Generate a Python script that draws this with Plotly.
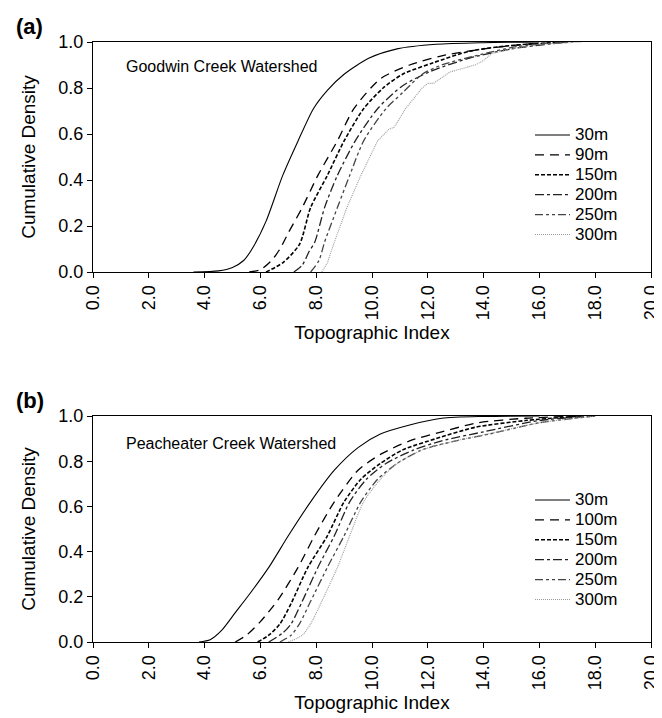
import plotly.graph_objects as go

FONT = '"Liberation Sans", Arial, sans-serif'

# ---------------- Data: panel (a) Goodwin Creek ----------------
a_labels = ["30m", "90m", "150m", "200m", "250m", "300m"]
a_30_x = [3.6, 4.5, 5.0, 5.4, 5.7, 6.2, 6.8, 7.35, 7.9, 8.4, 9.0, 9.9, 10.9, 12.3, 14.0, 16.0]
a_30_y = [0.0, 0.005, 0.02, 0.05, 0.10, 0.22, 0.42, 0.57, 0.71, 0.79, 0.86, 0.93, 0.97, 0.99, 0.997, 1.0]
a_90_x = [5.6, 6.0, 6.4, 6.7, 7.0, 7.5, 8.06, 8.76, 9.35, 10.3, 11.35, 12.5, 14.0, 15.5, 17.0]
a_90_y = [0.0, 0.01, 0.05, 0.10, 0.17, 0.28, 0.42, 0.57, 0.71, 0.84, 0.90, 0.94, 0.97, 0.99, 1.0]
a_150_x = [6.2, 6.8, 7.4, 7.8, 8.4, 9.0, 9.7, 10.4, 11.1, 12.2, 13.5, 15.0, 17.0]
a_150_y = [0.0, 0.04, 0.12, 0.28, 0.42, 0.57, 0.71, 0.80, 0.86, 0.91, 0.96, 0.985, 1.0]
a_200_x = [7.2, 7.5, 7.75, 7.95, 8.3, 8.76, 9.4, 10.2, 11.1, 12.06, 13.5, 15.0, 17.0]
a_200_y = [0.0, 0.03, 0.09, 0.13, 0.28, 0.42, 0.57, 0.71, 0.81, 0.87, 0.93, 0.97, 1.0]
a_250_x = [7.8, 8.1, 8.3, 8.76, 9.2, 9.7, 10.5, 11.1, 11.8, 12.5, 13.7, 15.2, 17.2]
a_250_y = [0.0, 0.05, 0.13, 0.28, 0.42, 0.57, 0.71, 0.78, 0.86, 0.90, 0.94, 0.98, 1.0]
a_300_x = [8.2, 8.4, 8.65, 9.1, 9.6, 10.2, 10.6, 10.8, 11.2, 11.8, 12.0, 12.2, 12.8, 13.7, 14.0, 14.3, 15.0, 16.0, 17.5]
a_300_y = [0.0, 0.04, 0.13, 0.28, 0.42, 0.57, 0.62, 0.63, 0.71, 0.80, 0.82, 0.82, 0.87, 0.90, 0.92, 0.95, 0.97, 0.99, 1.0]

# ---------------- Data: panel (b) Peacheater Creek ----------------
b_labels = ["30m", "100m", "150m", "200m", "250m", "300m"]
b_30_x = [3.8, 4.2, 4.6, 5.1, 5.6, 6.3, 7.0, 7.8, 8.65, 9.5, 10.3, 11.35, 12.5, 14.0, 16.0]
b_30_y = [0.0, 0.01, 0.05, 0.13, 0.21, 0.33, 0.47, 0.62, 0.76, 0.86, 0.92, 0.96, 0.99, 0.998, 1.0]
b_100_x = [5.1, 5.5, 6.0, 6.65, 7.35, 7.94, 8.65, 9.5, 10.3, 11.35, 12.5, 13.8, 15.5, 17.5]
b_100_y = [0.0, 0.03, 0.09, 0.19, 0.33, 0.47, 0.62, 0.76, 0.83, 0.89, 0.93, 0.97, 0.99, 1.0]
b_150_x = [5.9, 6.3, 6.7, 7.1, 7.7, 8.4, 9.0, 9.6, 10.3, 11.1, 12.3, 13.7, 15.5, 17.5]
b_150_y = [0.0, 0.03, 0.08, 0.17, 0.33, 0.47, 0.62, 0.72, 0.79, 0.85, 0.90, 0.95, 0.98, 1.0]
b_200_x = [6.3, 6.8, 7.1, 7.5, 8.06, 8.65, 9.2, 9.8, 10.5, 11.5, 12.5, 14.0, 16.0, 18.0]
b_200_y = [0.0, 0.04, 0.08, 0.18, 0.33, 0.47, 0.62, 0.72, 0.79, 0.85, 0.89, 0.93, 0.98, 1.0]
b_250_x = [6.7, 7.1, 7.4, 7.8, 8.4, 9.0, 9.6, 10.2, 10.9, 11.8, 13.0, 14.2, 16.0, 18.0]
b_250_y = [0.0, 0.03, 0.08, 0.18, 0.33, 0.47, 0.62, 0.72, 0.79, 0.85, 0.89, 0.92, 0.97, 1.0]
b_300_x = [7.0, 7.5, 7.8, 8.2, 8.76, 9.2, 9.7, 10.3, 10.9, 11.8, 13.0, 14.5, 16.0, 18.0]
b_300_y = [0.0, 0.03, 0.08, 0.18, 0.33, 0.47, 0.62, 0.72, 0.79, 0.85, 0.89, 0.93, 0.97, 1.0]

x_tickvals = [0, 2, 4, 6, 8, 10, 12, 14, 16, 18, 20]
x_ticktext = ["0.0", "2.0", "4.0", "6.0", "8.0", "10.0", "12.0", "14.0", "16.0", "18.0", "20.0"]
y_tickvals = [0.0, 0.2, 0.4, 0.6, 0.8, 1.0]
y_ticktext = ["0.0", "0.2", "0.4", "0.6", "0.8", "1.0"]

styles = [
    dict(color="black", width=1.1, dash="solid"),
    dict(color="black", width=1.3, dash="9px,6px"),
    dict(color="black", width=1.6, dash="4px,2px"),
    dict(color="#222", width=1.3, dash="9px,3px,3px,3px"),
    dict(color="#444", width=1.3, dash="8px,3px,3px,3px,3px,3px"),
    dict(color="#9a9a9a", width=1.1, dash="1px,1px"),
]
shapes_a = ["spline", "spline", "spline", "spline", "spline", "linear"]
shapes_b = ["spline"] * 6

LEG_TXT = '<span style="font-size:17px">{}</span>'

fig = go.Figure()

a_series = [(a_30_x, a_30_y), (a_90_x, a_90_y), (a_150_x, a_150_y),
            (a_200_x, a_200_y), (a_250_x, a_250_y), (a_300_x, a_300_y)]
b_series = [(b_30_x, b_30_y), (b_100_x, b_100_y), (b_150_x, b_150_y),
            (b_200_x, b_200_y), (b_250_x, b_250_y), (b_300_x, b_300_y)]

for i, (xs, ys) in enumerate(a_series):
    fig.add_trace(go.Scatter(x=xs, y=ys, mode="lines", name=LEG_TXT.format(a_labels[i]),
                             line=dict(**styles[i], shape=shapes_a[i], smoothing=0.7),
                             xaxis="x", yaxis="y", legend="legend"))
for i, (xs, ys) in enumerate(b_series):
    fig.add_trace(go.Scatter(x=xs, y=ys, mode="lines", name=LEG_TXT.format(b_labels[i]),
                             line=dict(**styles[i], shape=shapes_b[i], smoothing=0.7),
                             xaxis="x2", yaxis="y2", legend="legend2"))

W, H = 662, 718
ML, MR, MT, MB = 85, 19, 34, 84
PW = W - ML - MR
PH = H - MT - MB


def px_x(px):
    return (px - ML) / PW


def px_y(py):
    return (H - MB - py) / PH


ya = [px_y(264), 1.0]
yb = [0.0, px_y(408)]

axis_common = dict(showline=True, linecolor="black", linewidth=1, mirror=True,
                   ticks="outside", ticklen=5, tickcolor="black", showgrid=False,
                   zeroline=False, automargin=False,
                   tickfont=dict(family=FONT, size=18, color="black"))

xaxis_cfg = dict(axis_common, range=[0, 20], tickvals=x_tickvals, ticktext=x_ticktext,
                 tickangle=-90, domain=[0, 1],
                 title=dict(text="Topographic Index", font=dict(family=FONT, size=19, color="black"), standoff=6))
yaxis_cfg = dict(axis_common, range=[0, 1], tickvals=y_tickvals, ticktext=y_ticktext,
                 title=dict(text="Cumulative Density", font=dict(family=FONT, size=19, color="black"), standoff=17))

legend_cfg = dict(font=dict(family=FONT, size=13, color="black"), bgcolor="rgba(0,0,0,0)",
                  borderwidth=0, xanchor="left", yanchor="top", tracegroupgap=0, itemwidth=35,
                  xref="container", yref="container")

fig.update_layout(
    width=W, height=H,
    margin=dict(l=ML, r=MR, t=MT, b=MB, autoexpand=False),
    paper_bgcolor="white", plot_bgcolor="white",
    font=dict(family=FONT, color="black"),
    xaxis=dict(xaxis_cfg, anchor="y"),
    yaxis=dict(yaxis_cfg, domain=ya, anchor="x"),
    xaxis2=dict(xaxis_cfg, anchor="y2"),
    yaxis2=dict(yaxis_cfg, domain=yb, anchor="x2"),
    legend=dict(legend_cfg, x=522 / W, y=(H - 112) / H),
    legend2=dict(legend_cfg, x=522 / W, y=(H - 477) / H),
    annotations=[
        dict(text="<b>(a)</b>", x=px_x(6), y=px_y(18), xref="paper", yref="paper",
             xanchor="left", yanchor="middle", showarrow=False,
             font=dict(family=FONT, size=22, color="black")),
        dict(text="<b>(b)</b>", x=px_x(6), y=px_y(392), xref="paper", yref="paper",
             xanchor="left", yanchor="middle", showarrow=False,
             font=dict(family=FONT, size=22, color="black")),
        dict(text="Goodwin Creek Watershed", x=1.1, y=0.895, xref="x", yref="y",
             xanchor="left", yanchor="middle", showarrow=False,
             font=dict(family=FONT, size=16, color="black")),
        dict(text="Peacheater Creek Watershed", x=1.1, y=0.88, xref="x2", yref="y2",
             xanchor="left", yanchor="middle", showarrow=False,
             font=dict(family=FONT, size=16, color="black")),
    ],
    showlegend=True,
)

fig.write_html("out.html")
